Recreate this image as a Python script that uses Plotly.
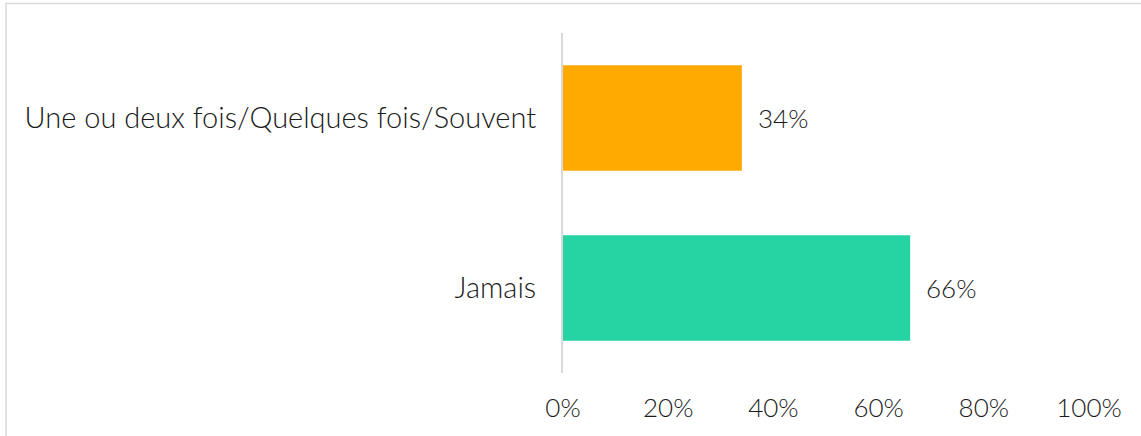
import plotly.graph_objects as go

categories = ["Une ou deux fois/Quelques fois/Souvent", "Jamais"]
values = [34, 66]
bar_colors = ["#FFAA00", "#26D3A3"]
tick_vals = [0, 20, 40, 60, 80, 100]
tick_text = ["0%", "20%", "40%", "60%", "80%", "100%"]

W, H = 1141, 436
L, R, T, B = 563, 52, 33, 63
pw, ph = W - L - R, H - T - B

font_family = "Lato"
num_size = 26
cat_size = 29
txt_color = "#1a1a1a"

fig = go.Figure()
fig.add_trace(go.Bar(
    y=categories, x=values, orientation="h",
    marker=dict(color=bar_colors, line=dict(width=0)),
    width=0.62, hoverinfo="skip",
))

for c, v in zip(categories, values):
    fig.add_annotation(x=v, y=c, text=f"{v}%", showarrow=False,
                       xanchor="left", xshift=14,
                       font=dict(family=font_family, size=num_size, color=txt_color, weight=300))

fig.add_shape(type="rect", xref="paper", yref="paper",
              x0=(6 - L) / pw, x1=(W + 2 - L) / pw,
              y0=(T + ph - (H + 5)) / ph, y1=(T + ph - 3.5) / ph,
              line=dict(color="#D9D9D9", width=1.5), fillcolor="rgba(0,0,0,0)", layer="below")

fig.update_layout(
    width=W, height=H,
    margin=dict(l=L, r=R, t=T, b=B, pad=0),
    paper_bgcolor="white", plot_bgcolor="white",
    showlegend=False,
    font=dict(family=font_family, size=num_size, color=txt_color, weight=300),
    xaxis=dict(range=[0, 100], tickvals=tick_vals, ticktext=tick_text,
               showgrid=False, zeroline=False, showline=False, ticks="",
               ticklabelstandoff=17, fixedrange=True,
               tickfont=dict(family=font_family, size=num_size, color=txt_color, weight=300)),
    yaxis=dict(categoryorder="array", categoryarray=categories[::-1],
               range=[-0.5, 1.5],
               showgrid=False, zeroline=False, showline=True,
               linecolor="#D9D9D9", linewidth=2, ticks="",
               ticklabelstandoff=19, fixedrange=True,
               tickfont=dict(family=font_family, size=cat_size, color=txt_color, weight=300)),
)

fig.write_html("out.html")
